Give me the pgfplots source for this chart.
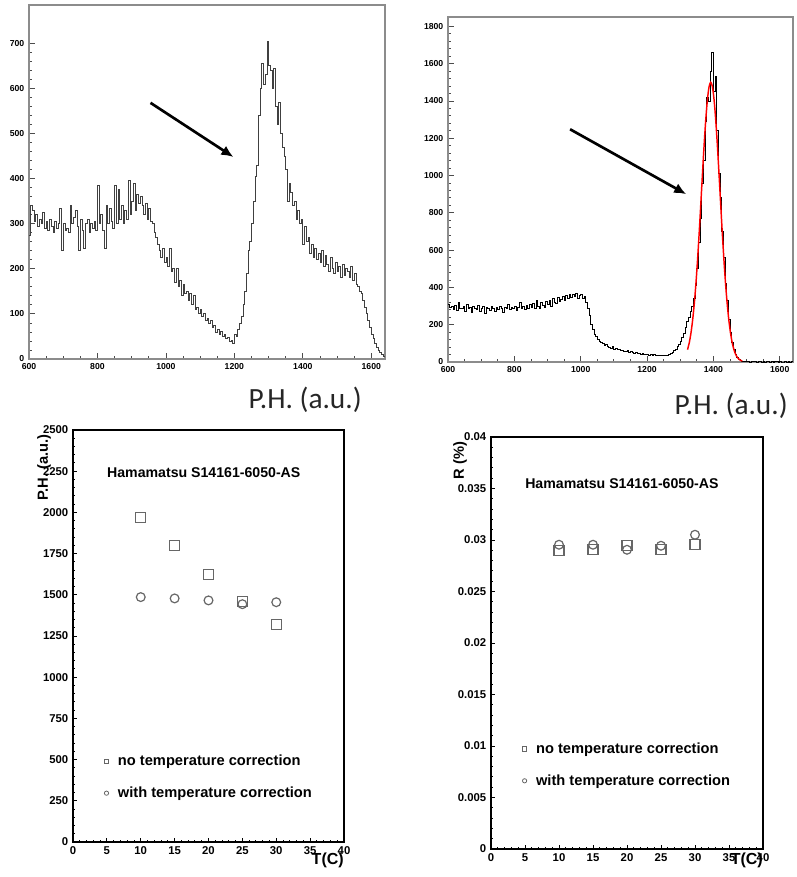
\documentclass[border=0pt]{standalone}
\usepackage{fontspec}
\setmainfont{Liberation Sans}
\newfontfamily\calibri{Carlito}
\usepackage{pgfplots}
\pgfplotsset{compat=1.18}
\usetikzlibrary{arrows.meta}

\pgfplotsset{
  rootaxis/.style={
    scale only axis, anchor=south west, clip=false,
    tick align=inside, xtick pos=left, ytick pos=left,
    /pgf/number format/assume math mode=true,
    /pgf/number format/1000 sep={},
    scaled ticks=false,
  },
  histaxis/.style={
    rootaxis,
    axis line style={black!45, line width=0.8pt},
    tick style={black!70, line width=0.6pt},
    major tick length=4.5pt, minor tick length=2.5pt,
    tick label style={font=\bfseries\fontsize{6.5}{7.5}\selectfont},
    xmin=600, xmax=1640, xtick={600,800,...,1600},
    minor x tick num=3, minor y tick num=4,
  },
  tempaxis/.style={
    rootaxis,
    axis line style={black, line width=1.2pt},
    tick style={black, line width=0.7pt},
    major tick length=3pt, minor tick length=1.6pt,
    tick label style={font=\bfseries\fontsize{8.5}{10}\selectfont},
    xmin=0, xmax=40, xtick={0,5,...,40}, minor tick num=4,
    legend image code/.code={\draw[##1, mark size=1.6pt, line width=0.6pt] plot coordinates {(0pt,0pt)};},
    legend cell align=left,
    legend style={draw=none, fill=none, anchor=north west,
      font=\bfseries\fontsize{11}{13}\selectfont, row sep=10.5pt,
      /tikz/every odd column/.append style={column sep=5pt}},
  },
  nocorr/.style={only marks, mark=square, mark size=3.75pt, draw=black!60, line width=0.9pt},
  withcorr/.style={only marks, mark=o, mark size=3.3pt, draw=black!60, line width=0.9pt},
}

\begin{document}
\begin{tikzpicture}
\path[use as bounding box] (0,0) rectangle (597pt,657.75pt);

% top left: spectrum without correction
\begin{axis}[histaxis, at={(21.75pt,388.5pt)}, width=267pt, height=265.5pt,
  ymin=0, ymax=785, ytick={0,100,...,700}]
\addplot[const plot mark left, black!75, line width=0.6pt, mark=none]
  table[x expr=600+5*\coordindex, y index=0, header=false, row sep=\\] {
275\\340\\330\\305\\320\\295\\310\\300\\325\\290\\
305\\285\\310\\295\\280\\305\\290\\300\\335\\240\\
300\\285\\290\\280\\340\\300\\315\\330\\295\\240\\
310\\285\\245\\300\\310\\280\\300\\290\\305\\285\\
385\\300\\320\\285\\245\\340\\300\\335\\305\\290\\
385\\300\\375\\310\\340\\300\\330\\310\\395\\320\\
350\\390\\330\\365\\345\\360\\340\\320\\345\\310\\
335\\305\\300\\280\\270\\255\\240\\225\\245\\215\\
225\\205\\245\\195\\200\\170\\200\\160\\175\\140\\
165\\145\\150\\130\\145\\120\\140\\110\\115\\100\\
110\\95\\100\\85\\90\\78\\85\\70\\75\\60\\
65\\55\\62\\50\\55\\45\\48\\38\\42\\35\\
55\\50\\65\\80\\95\\120\\150\\190\\240\\260\\
300\\350\\405\\430\\540\\600\\655\\610\\630\\705\\
650\\640\\600\\645\\560\\520\\570\\500\\470\\450\\
420\\350\\390\\370\\340\\350\\310\\330\\300\\310\\
255\\295\\260\\270\\235\\255\\225\\245\\220\\235\\
215\\240\\205\\230\\210\\195\\225\\200\\190\\215\\
195\\205\\180\\210\\185\\200\\195\\180\\205\\175\\
190\\165\\160\\150\\145\\130\\115\\100\\85\\70\\
55\\45\\35\\25\\18\\14\\10\\6\\6\\
};
\draw[line width=2pt, -{Latex[length=9pt,width=8pt]}] (axis cs:955,568) -- (axis cs:1197,448);
\end{axis}

% top right: spectrum with correction and gaussian fit
\begin{axis}[histaxis, at={(336pt,386.25pt)}, width=258.75pt, height=258.75pt,
  ymin=0, ymax=1850, ytick={0,200,...,1800}]
\addplot[const plot mark left, black, line width=0.6pt, mark=none]
  table[x expr=600+5*\coordindex, y index=0, header=false, row sep=\\] {
310\\295\\300\\280\\305\\275\\320\\290\\285\\300\\
270\\310\\285\\295\\265\\300\\290\\280\\305\\270\\
285\\300\\260\\295\\290\\275\\300\\285\\270\\295\\
280\\300\\290\\265\\295\\285\\310\\280\\295\\285\\
300\\275\\295\\320\\285\\300\\280\\305\\290\\310\\
295\\315\\285\\330\\300\\290\\320\\305\\295\\325\\
310\\330\\300\\340\\320\\315\\345\\325\\335\\350\\
330\\355\\340\\365\\345\\360\\350\\370\\340\\355\\
365\\340\\350\\320\\290\\250\\200\\175\\150\\135\\
120\\110\\105\\98\\90\\95\\85\\80\\75\\82\\
70\\75\\65\\68\\60\\62\\58\\55\\60\\52\\
55\\50\\48\\52\\45\\47\\42\\45\\40\\43\\
40\\38\\42\\36\\40\\35\\38\\34\\37\\33\\
36\\34\\38\\40\\45\\52\\60\\70\\82\\95\\
110\\130\\155\\185\\215\\240\\270\\300\\340\\410\\
500\\640\\770\\960\\1080\\1290\\1420\\1400\\1560\\1660\\
1450\\1530\\1240\\1010\\880\\700\\560\\420\\330\\230\\
160\\105\\70\\40\\22\\12\\6\\4\\2\\3\\
1\\2\\0\\1\\3\\1\\0\\2\\1\\0\\
1\\0\\2\\1\\0\\1\\0\\1\\2\\0\\
1\\0\\0\\1\\0\\2\\0\\1\\1\\
};
\addplot[red, line width=1.1pt, mark=none, smooth] coordinates {
(1322,66) (1327,101) (1332,151) (1337,218) (1342,305) (1347,412) (1352,541)
(1357,687) (1362,845) (1367,1007) (1372,1162) (1377,1299) (1382,1407)
(1387,1476) (1392,1500) (1397,1476) (1402,1407) (1407,1299) (1412,1162)
(1417,1007) (1422,845) (1427,687) (1432,541) (1437,412) (1442,305)
(1447,218) (1452,151) (1457,101) (1462,66) (1467,41) (1472,25) (1477,15)
(1482,9) (1487,5)};
\draw[line width=2pt, -{Latex[length=9pt,width=8pt]}] (axis cs:968,1248) -- (axis cs:1318,900);
\end{axis}

\node[anchor=east, inner sep=0pt, font=\calibri\fontsize{22}{24}\selectfont, black!85] at (271.5pt,357.75pt) {P.H. (a.u.)};
\node[anchor=east, inner sep=0pt, font=\calibri\fontsize{22}{24}\selectfont, black!85] at (591pt,353.25pt) {P.H. (a.u.)};

% bottom left: pulse height vs temperature
\begin{axis}[tempaxis, at={(54.75pt,26.25pt)}, width=203.25pt, height=309pt,
  ymin=0, ymax=2500, ytick={0,250,...,2500},
  legend style={at={(rel axis cs:0.10,0.225)}}]
\addplot[nocorr] coordinates {(10,1968) (15,1798) (20,1621) (25,1457) (30,1318)};
\addplot[withcorr] coordinates {(10,1486) (15,1478) (20,1466) (25,1443) (30,1455)};
\legend{no temperature correction, with temperature correction}
\node[anchor=west, inner sep=0pt, font=\bfseries\fontsize{10.6}{13}\selectfont] at (rel axis cs:0.125,0.896) {Hamamatsu S14161-6050-AS};
\node[rotate=90, anchor=east, font=\bfseries\fontsize{11}{13}\selectfont] at (rel axis cs:-0.107,1.0) {P.H. (a.u.)};
\node[anchor=north east, font=\bfseries\fontsize{12}{14}\selectfont, inner sep=0pt] at (rel axis cs:1.0,-0.025) {T(C)};
\end{axis}

% bottom right: resolution vs temperature
\begin{axis}[tempaxis, at={(368.25pt,21pt)}, width=204pt, height=309pt,
  ymin=0, ymax=0.04, ytick={0,0.005,...,0.04},
  yticklabels={0,0.005,0.01,0.015,0.02,0.025,0.03,0.035,0.04},
  legend style={at={(rel axis cs:0.10,0.272)}}]
\addplot[nocorr] coordinates {(10,0.02896) (15,0.02905) (20,0.02944) (25,0.02908) (30,0.02957)};
\addplot[withcorr] coordinates {(10,0.02954) (15,0.02954) (20,0.02905) (25,0.02944) (30,0.03051)};
\legend{no temperature correction, with temperature correction}
\node[anchor=west, inner sep=0pt, font=\bfseries\fontsize{10.6}{13}\selectfont] at (rel axis cs:0.125,0.888) {Hamamatsu S14161-6050-AS};
\node[rotate=90, anchor=east, font=\bfseries\fontsize{11}{13}\selectfont] at (rel axis cs:-0.114,1.0) {R (\%)};
\node[anchor=north east, font=\bfseries\fontsize{12}{14}\selectfont, inner sep=0pt] at (rel axis cs:1.0,-0.01) {T(C)};
\end{axis}
\end{tikzpicture}
\end{document}
